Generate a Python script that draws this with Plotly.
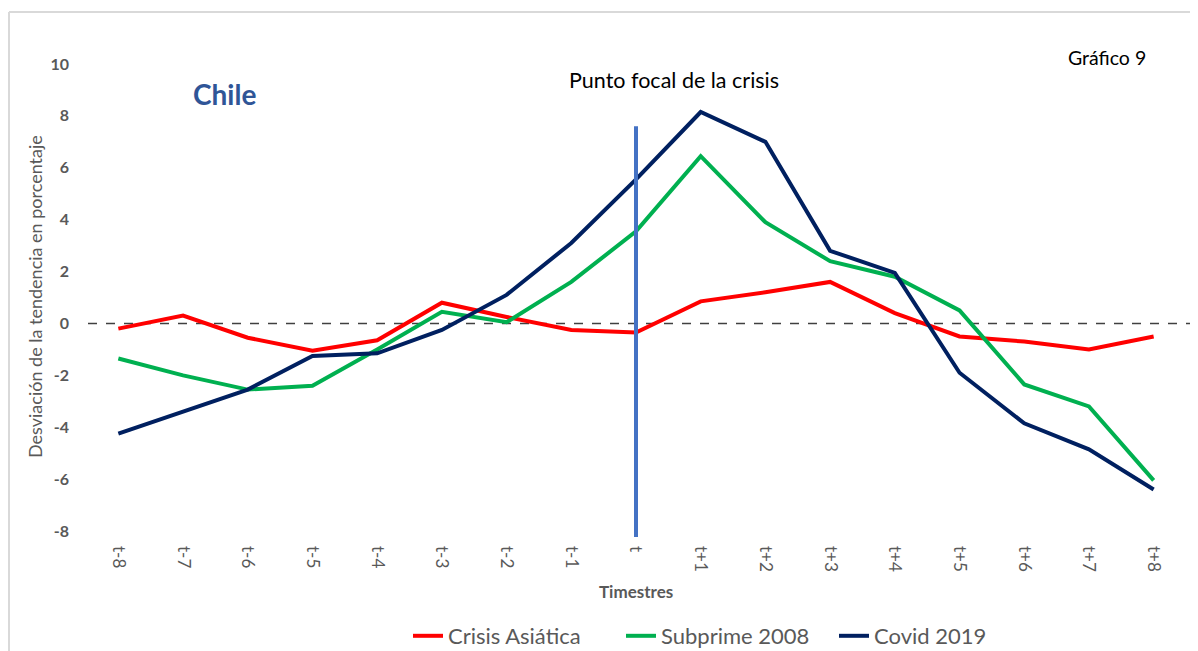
import plotly.graph_objects as go

categories = ["t-8", "t-7", "t-6", "t-5", "t-4", "t-3", "t-2", "t-1", "t",
              "t+1", "t+2", "t+3", "t+4", "t+5", "t+6", "t+7", "t+8"]
crisis_asiatica = [-0.2, 0.3, -0.55, -1.05, -0.65, 0.8, 0.25, -0.25, -0.35,
                   0.85, 1.2, 1.6, 0.4, -0.5, -0.7, -1.0, -0.5]
subprime_2008 = [-1.35, -2.0, -2.55, -2.4, -1.0, 0.45, 0.05, 1.6, 3.55,
                 6.45, 3.9, 2.4, 1.8, 0.5, -2.35, -3.2, -6.05]
covid_2019 = [-4.25, -3.4, -2.55, -1.25, -1.15, -0.25, 1.1, 3.1, 5.55,
              8.15, 7.0, 2.8, 1.95, -1.9, -3.85, -4.85, -6.4]
y_ticks = [-8, -6, -4, -2, 0, 2, 4, 6, 8, 10]

# page body has an 8px margin; work in screen pixels and convert
OFF = 8
W, H = 1198 - OFF, 651 - OFF
L, R, T, B = 86 - OFF, 12, 64 - OFF, 120
pw, ph = W - L - R, H - T - B

def px(s):
    return (s - OFF - L) / pw

def py(s):
    return (H - B - (s - OFF)) / ph

FONT = "Lato"
GREY = "#595959"

fig = go.Figure()
series = [("Crisis Asiática", crisis_asiatica, "#FF0000"),
          ("Subprime 2008", subprime_2008, "#00B050"),
          ("Covid 2019", covid_2019, "#002060")]
for name, vals, col in series:
    fig.add_trace(go.Scatter(x=list(range(len(categories))), y=vals, name=name,
                             mode="lines", line=dict(color=col, width=4)))

shapes = [
    dict(type="line", xref="paper", yref="y", x0=px(88), x1=px(1193), y0=0, y1=0,
         line=dict(color="#404040", width=1.5, dash="dash"), layer="below"),
    dict(type="line", xref="x", yref="y", x0=8, x1=8, y0=7.6, y1=-8,
         line=dict(color="#4472C4", width=4)),
    dict(type="line", xref="x", yref="paper", x0=8, x1=8, y0=0, y1=py(537),
         line=dict(color="#4472C4", width=4)),
    dict(type="line", xref="paper", yref="paper", x0=px(9), x1=px(9), y0=py(12), y1=py(651),
         line=dict(color="#D9D9D9", width=2)),
    dict(type="line", xref="paper", yref="paper", x0=px(9), x1=px(1198), y0=py(12), y1=py(12),
         line=dict(color="#D9D9D9", width=2)),
]

def ann(text, x, y, size, color, angle=0):
    return dict(text=text, x=px(x), y=py(y), xref="paper", yref="paper",
                xanchor="center", yanchor="middle", textangle=angle,
                showarrow=False, font=dict(family=FONT, size=size, color=color))

annotations = [
    ann("<b>Chile</b>", 224, 94, 28, "#2F5597"),
    ann("Punto focal de la crisis", 674, 80, 21.5, "#000000"),
    ann("Gráfico 9", 1107, 57, 19.5, "#000000"),
    ann("<b>Timestres</b>", 636, 591, 17, GREY),
    ann("Desviación de la tendencia en porcentaje", 35, 297, 18, GREY, -90),
]

fig.update_layout(
    width=W, height=H,
    margin=dict(l=L, r=R, t=T, b=B),
    paper_bgcolor="white", plot_bgcolor="white",
    showlegend=True,
    legend=dict(orientation="h", xref="container", yref="container",
                x=(413 - OFF - 5) / W, y=(H - (636 - OFF)) / H,
                xanchor="left", yanchor="middle",
                font=dict(family=FONT, size=22, color=GREY), itemwidth=30,
                entrywidth=168, tracegroupgap=0),
    shapes=shapes,
    annotations=annotations,
    xaxis=dict(range=[-0.5, 16.5], tickmode="array", tickvals=list(range(len(categories))),
               ticktext=categories, tickangle=90, showgrid=False, zeroline=False,
               showline=False, ticks="", ticklabelstandoff=14,
               tickfont=dict(family=FONT, size=17, color=GREY)),
    yaxis=dict(range=[-8, 10], tickmode="array", tickvals=y_ticks,
               ticktext=[f"<b>{v}</b>" for v in y_ticks], showgrid=False,
               zeroline=False, showline=False, ticks="", ticklabelstandoff=16,
               tickfont=dict(family=FONT, size=16, color=GREY)),
)

fig.write_html("out.html")
